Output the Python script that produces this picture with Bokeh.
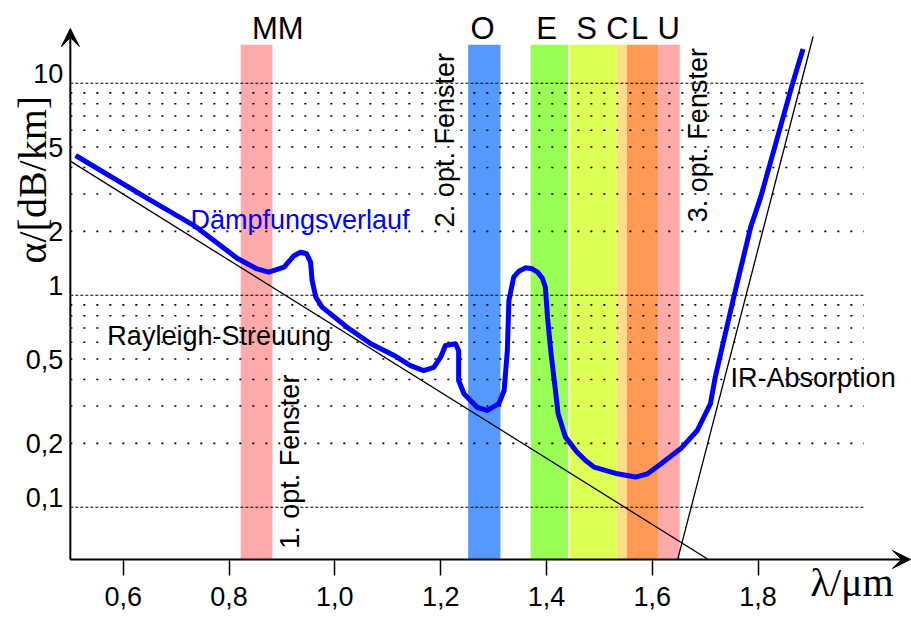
import math

from bokeh.core.properties import value
from bokeh.embed import file_html
from bokeh.models import (Arrow, CustomJSTickFormatter, FixedTicker, Label,
                          Range1d, VeeHead)
from bokeh.plotting import figure
from bokeh.resources import INLINE

# Measured attenuation of a silica fibre (wavelength in µm, dB/km)
curve_wl = [0.510, 0.652, 0.734, 0.816, 0.853, 0.875, 0.904, 0.922, 0.935,
            0.9465, 0.9541, 0.957, 0.964, 0.976, 1.023, 1.068, 1.112, 1.143,
            1.168, 1.187, 1.200, 1.209, 1.228, 1.234, 1.234, 1.244, 1.269,
            1.288, 1.310, 1.320, 1.326, 1.329, 1.338, 1.348, 1.361, 1.373,
            1.383, 1.392, 1.398, 1.402, 1.408, 1.417, 1.422, 1.436, 1.458,
            1.474, 1.490, 1.534, 1.568, 1.591, 1.616, 1.654, 1.685, 1.710,
            1.719, 1.754, 1.786, 1.805, 1.865, 1.885]
curve_att = [4.56, 2.80, 2.13, 1.49, 1.33, 1.284, 1.356, 1.53, 1.595,
             1.568, 1.431, 1.173, 0.978, 0.878, 0.706, 0.590, 0.520, 0.465,
             0.441, 0.457, 0.510, 0.579, 0.590, 0.548, 0.396, 0.343, 0.296,
             0.286, 0.308, 0.355, 0.548, 0.944, 1.216, 1.298, 1.346, 1.332,
             1.284, 1.208, 1.09, 0.787, 0.548, 0.355, 0.276, 0.214, 0.1817,
             0.166, 0.1545, 0.1437, 0.1387, 0.1437, 0.160, 0.189, 0.230, 0.308,
             0.410, 0.978, 2.094, 2.90, 9.93, 14.5]

# Asymptotes: Rayleigh scattering and infrared absorption edge
rayleigh_wl = [0.500, 1.706]
rayleigh_att = [4.29, 0.0567]
ir_wl = [1.648, 1.904]
ir_att = [0.0567, 16.6]

# Transmission bands
band_names = ["MM", "O", "E", "S", "C", "L", "U"]
band_start = [0.822, 1.252, 1.370, 1.444, 1.533, 1.552, 1.612]
band_end = [0.882, 1.313, 1.441, 1.533, 1.552, 1.612, 1.652]
band_colors = ["#ffaaaa", "#5599ff", "#99ff55", "#ddff55", "#ffdd88",
               "#ff9955", "#ffaaaa"]
band_label_x = [0.892, 1.279, 1.400, 1.476, 1.534, 1.576, 1.631]
band_top = 15.2
band_label_y = 15.9

# Grid values
grid_decades = [0.1, 1, 10]
grid_minor = [0.2, 0.3, 0.4, 0.5, 0.6, 0.7, 0.8, 0.9,
              2, 3, 4, 5, 6, 7, 8, 9]
grid_wl = [0.5, 2.0]

# Axis ticks
x_ticks = [0.6, 0.8, 1.0, 1.2, 1.4, 1.6, 1.8]
x_tick_labels = ["0,6", "0,8", "1,0", "1,2", "1,4", "1,6", "1,8"]
y_ticks = [0.1, 0.2, 0.5, 1, 2, 5, 10]
y_tick_labels = ["0,1", "0,2", "0,5", "1", "2", "5", "10"]

# Annotations
note_text = ["Dämpfungsverlauf", "Rayleigh-Streuung", "IR-Absorption"]
note_x = [0.727, 0.570, 1.748]
note_y = [2.04, 0.573, 0.366]
note_color = ["#0000ff", "black", "black"]

window_text = ["1. opt. Fenster", "2. opt. Fenster", "3. opt. Fenster"]
window_x = [0.935, 1.228, 1.705]
window_y = [0.0637, 2.094, 2.21]

SANS = value("Liberation Sans")
SERIF = "Liberation Serif"

# Origin of the axes (wavelength, attenuation)
x0, y0 = 0.5, 0.0567
# Full-canvas data window
x_lo, x_hi = 0.368, 2.090
y_lo, y_hi = 0.03018, 24.55

p = figure(width=911, height=617, output_backend="svg", toolbar_location=None,
           y_axis_type="log", x_range=Range1d(x_lo, x_hi),
           y_range=Range1d(y_lo, y_hi), title=None, min_border=0)
p.outline_line_color = None
p.grid.visible = False
p.background_fill_color = "white"
p.border_fill_color = "white"

# Bands
p.quad(left=band_start, right=band_end, bottom=y0, top=band_top,
       fill_color=band_colors, line_color=None)
p.text(x=band_label_x, y=band_label_y, text=band_names, text_font=SANS,
       text_font_size="31px", text_align="center", y_offset=-12,
       text_baseline="alphabetic", text_color="black")

# Grid lines
p.segment(x0=grid_wl[0], x1=grid_wl[1], y0=grid_minor, y1=grid_minor,
          line_color="black", line_width=1.6, line_dash="2 11")
p.segment(x0=grid_wl[0], x1=grid_wl[1], y0=grid_decades, y1=grid_decades,
          line_color="black", line_width=1.1, line_dash="3 2")

# Asymptotes and attenuation curve
p.line(rayleigh_wl, rayleigh_att, line_color="black", line_width=1.3)
p.line(ir_wl, ir_att, line_color="black", line_width=1.3)
p.line(curve_wl, curve_att, line_color="#0000ff", line_width=5,
       line_join="round")

# Texts inside the plot
p.text(x=note_x, y=note_y, text=note_text, text_color=note_color,
       text_font=SANS, text_font_size="27px", text_baseline="alphabetic",
       text_align="left", y_offset=-10)
p.text(x=window_x, y=window_y, text=window_text, angle=math.pi / 2,
       text_font=SANS, text_font_size="27px", text_baseline="alphabetic",
       text_align="left", text_color="black", x_offset=-10)

# Axes drawn as arrows
head = dict(size=18, fill_color="black", line_color="black", line_width=1)
p.add_layout(Arrow(x_start=x0, y_start=y0, x_end=2.088, y_end=y0,
                   line_width=2, line_color="black", end=VeeHead(**head)))
p.add_layout(Arrow(x_start=x0, y_start=y0, x_end=x0, y_end=18.1,
                   line_width=2, line_color="black", end=VeeHead(**head)))

# Tick labels: decade labels sit a little above their grid line
shift = 10 ** (10 / 212)
y_label_pos = [t * shift if t in grid_decades else t for t in y_ticks]

xa = p.xaxis[0]
xa.fixed_location = y0
xa.ticker = FixedTicker(ticks=x_ticks)
xa.formatter = CustomJSTickFormatter(args=dict(labels=x_tick_labels),
                                     code="return labels[index]")
xa.axis_line_color = None
xa.major_tick_out = 16
xa.major_tick_in = 0
xa.major_tick_line_width = 1.5
xa.major_tick_line_color = "black"
xa.minor_tick_line_color = None
xa.major_label_standoff = 12
xa.major_label_text_font = "Liberation Sans"
xa.major_label_text_font_size = "27px"
xa.major_label_text_color = "black"

ya = p.yaxis[0]
ya.fixed_location = x0
ya.ticker = FixedTicker(ticks=y_label_pos)
ya.formatter = CustomJSTickFormatter(args=dict(labels=y_tick_labels),
                                     code="return labels[index]")
ya.axis_line_color = None
ya.major_tick_line_color = None
ya.minor_tick_line_color = None
ya.major_tick_out = 0
ya.major_tick_in = 0
ya.major_label_standoff = 7
ya.major_label_text_font = "Liberation Sans"
ya.major_label_text_font_size = "27px"
ya.major_label_text_color = "black"

# Axis titles
p.add_layout(Label(x=0.4285, y=1.411, text="α/[dB/km]", angle=math.pi / 2,
                   text_font=SERIF, text_font_size="40px",
                   text_baseline="alphabetic", text_align="left",
                   text_color="black"))
p.add_layout(Label(x=1.8993, y=0.0443, text="λ/μm", text_font=SERIF,
                   text_font_size="40px", text_baseline="alphabetic",
                   text_align="left", text_color="black"))

open("out.html", "w").write(file_html(p, INLINE))
